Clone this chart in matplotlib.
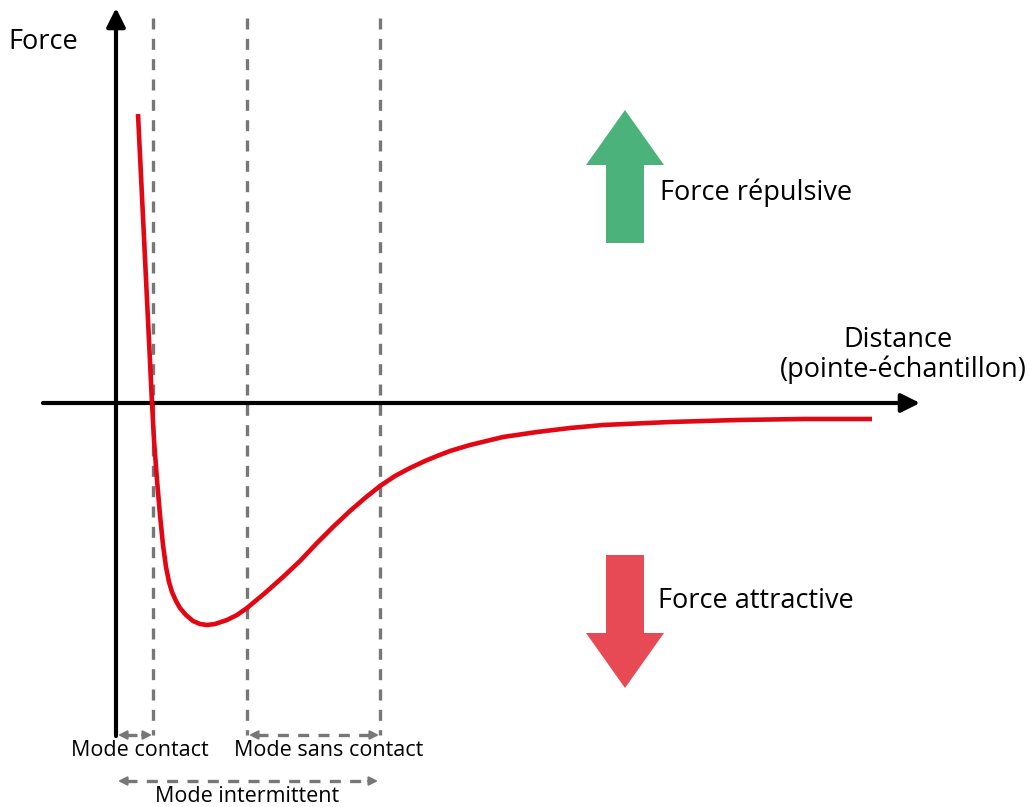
import numpy as np
import matplotlib.pyplot as plt

plt.rcParams['font.family'] = ['Open Sans', 'DejaVu Sans']

# courbe force / distance (coordonnées, en pixels)
courbe_x = [138, 141.2, 144.6, 147.5, 149.7, 151.6, 154, 157, 160, 163, 166, 169, 172,
            176, 180, 186, 193, 200, 207, 215, 227, 237, 247, 265, 283, 300, 317,
            333, 350, 365, 380, 395, 410, 425, 437, 450, 470, 503, 537, 570, 603,
            670, 737, 803, 872]
courbe_y = [114, 180, 250, 310, 355, 395, 440, 480, 515, 545, 567, 582, 592,
            601, 608, 615, 621, 624, 625, 624, 620, 615, 608, 593, 577, 561, 543,
            527, 511, 498, 486, 476, 468, 461, 456, 451, 445, 437, 432, 428, 425,
            422, 420, 419, 419]

# positions des lignes pointillées verticales
modes_x = [153, 247, 380]

gris = '#777777'
rouge = '#e30613'
vert = '#4ab27a'
rouge_fleche = '#e84a55'

fig = plt.figure(figsize=(10.30, 8.07), dpi=100)
ax = fig.add_axes([0, 0, 1, 1])
ax.set_xlim(0, 1030)
ax.set_ylim(807, 0)
ax.axis('off')

# lignes pointillées
for x in modes_x:
    ax.plot([x, x], [18, 735], color=gris, lw=2.4, dashes=(3.3, 2.8), zorder=1)

# axes
ax.annotate('', xy=(116, 8), xytext=(116, 736),
            arrowprops=dict(arrowstyle='-|>', color='black', lw=3, mutation_scale=28,
                            shrinkA=0, shrinkB=0), zorder=3)
ax.annotate('', xy=(920, 403), xytext=(43, 403),
            arrowprops=dict(arrowstyle='-|>', color='black', lw=3, mutation_scale=28,
                            shrinkA=0, shrinkB=0), zorder=3)

# courbe
ax.plot(courbe_x, courbe_y, color=rouge, lw=3.3, zorder=4,
        solid_capstyle='butt', solid_joinstyle='round')

# flèches des modes
def fleche_mode(x0, x1, y):
    ax.plot([x0 + 8, x1 - 8], [y, y], color=gris, lw=2.4, dashes=(3.3, 2.8))
    for xa, xb in [(x0, x0 + 10), (x1, x1 - 10)]:
        ax.annotate('', xy=(xa, y), xytext=(xb, y),
                    arrowprops=dict(arrowstyle='-|>', color=gris, lw=1.5,
                                    mutation_scale=13, shrinkA=0, shrinkB=0))

fleche_mode(118, 152, 735)
fleche_mode(249, 379, 735)
fleche_mode(118, 378, 781)

ax.text(140, 750, 'Mode contact', ha='center', va='center', fontsize=15.5)
ax.text(329, 750, 'Mode sans contact', ha='center', va='center', fontsize=15.5)
ax.text(247, 796, 'Mode intermittent', ha='center', va='center', fontsize=15.5)

# grosses flèches
ax.fill([606, 606, 586, 625, 664, 644, 644], [243, 165, 165, 110, 165, 165, 243],
        color=vert, lw=0)
ax.fill([606, 606, 586, 625, 664, 644, 644], [555, 633, 633, 688, 633, 633, 555],
        color=rouge_fleche, lw=0)

ax.text(660, 193, 'Force répulsive', ha='left', va='center', fontsize=19.5)
ax.text(658, 601, 'Force attractive', ha='left', va='center', fontsize=19.5)

ax.text(8, 42, 'Force', ha='left', va='center', fontsize=19.5)
ax.text(898, 340, 'Distance', ha='center', va='center', fontsize=19.5)
ax.text(1027, 370, '(pointe-échantillon)', ha='right', va='center', fontsize=19.5)

fig.savefig('out.png', dpi=100)
